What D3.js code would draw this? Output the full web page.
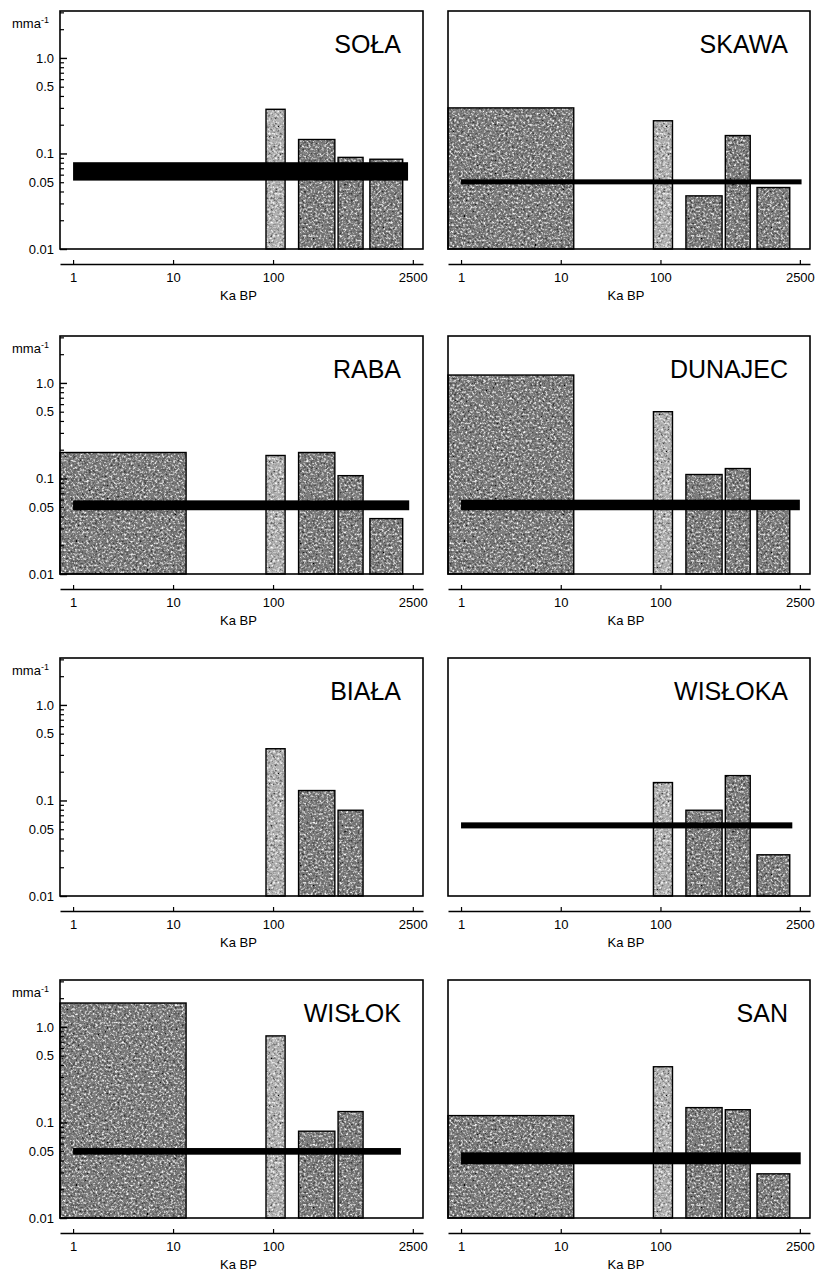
<!DOCTYPE html>
<html>
<head>
<meta charset="utf-8">
<script src="https://cdn.jsdelivr.net/npm/d3@7"></script>
<style>
  body { margin: 0; background: #fff; }
  text { font-family: "Liberation Sans", Arial, sans-serif; fill: #000; }
</style>
</head>
<body>
<svg width="816" height="1276"></svg>
<script>
// rivers, in reading order (row by row)
var rivers = ["SOŁA", "SKAWA", "RABA", "DUNAJEC", "BIAŁA", "WISŁOKA", "WISŁOK", "SAN"];

// time slices, Ka BP (first one starts at the left edge of the frame)
var periodStart = [0.74, 85, 180, 447, 930];
var periodEnd   = [13.5, 132, 415, 795, 1980];
var periodShade = ["dark", "light", "dark", "dark", "dark"];

// rates (mm/a) per time slice, null = no bar
var sola    = [null, 0.29, 0.14, 0.091, 0.087];
var skawa   = [0.30, 0.22, 0.036, 0.154, 0.044];
var raba    = [0.187, 0.174, 0.187, 0.107, 0.038];
var dunajec = [1.21, 0.50, 0.110, 0.127, 0.058];
var biala   = [null, 0.348, 0.127, 0.079, null];
var wisloka = [null, 0.154, 0.079, 0.182, 0.027];
var wislok  = [1.78, 0.806, 0.081, 0.130, null];
var san     = [0.118, 0.383, 0.143, 0.136, 0.029];
var rates = [sola, skawa, raba, dunajec, biala, wisloka, wislok, san];

// long-term mean rate band (low/high, mm/a) from 1 Ka to bandEnd
var bandLow  = [0.052, 0.0475, 0.0465, 0.0465, null, 0.051, 0.046, 0.0365];
var bandHigh = [0.081, 0.0536, 0.059, 0.060, null, 0.059, 0.054, 0.0487];
var bandEnd  = [2240, 2600, 2300, 2500, null, 2100, 1900, 2550];

// axis ticks
var xTicks = [1, 10, 100, 2500];
var yLabels = [0.01, 0.05, 0.1, 0.5, 1];
var yMajor = [0.01, 0.1, 1];
var yMinor = [0.02, 0.03, 0.04, 0.05, 0.06, 0.07, 0.08, 0.09,
              0.2, 0.3, 0.4, 0.5, 0.6, 0.7, 0.8, 0.9, 2, 3];

var svg = d3.select("svg");

var colLeft = [60, 448],
    colWidth = [363, 362],
    rowTop = [11, 336, 658, 980],
    frameH = 238;

// mottled print texture for the bars
var defs = svg.append("defs");
var grain = defs.append("filter").attr("id", "grain");
grain.append("feTurbulence")
    .attr("type", "fractalNoise").attr("baseFrequency", 0.45)
    .attr("numOctaves", 3).attr("seed", 7).attr("result", "noise");
grain.append("feColorMatrix").attr("in", "noise").attr("type", "matrix")
    .attr("values", "0 0 0 0 0  0 0 0 0 0  0 0 0 0 0  3.0 0 0 0 -1.6")
    .attr("result", "dark");
grain.append("feColorMatrix").attr("in", "noise").attr("type", "matrix")
    .attr("values", "0 0 0 0 1  0 0 0 0 1  0 0 0 0 1  -3.0 0 0 0 1.4")
    .attr("result", "light");
var merge = grain.append("feMerge").attr("result", "merged");
merge.append("feMergeNode").attr("in", "SourceGraphic");
merge.append("feMergeNode").attr("in", "dark");
merge.append("feMergeNode").attr("in", "light");
grain.append("feComposite").attr("in", "merged").attr("in2", "SourceGraphic").attr("operator", "in");

var shadeColor = { dark: "#7c7c7c", light: "#b0b0b0" };

rivers.forEach(function(name, i) {
  var row = Math.floor(i / 2), col = i % 2;
  var w = colWidth[col];

  var x = d3.scaleLog().domain([0.74, 3160]).range([0, w]);
  var y = d3.scaleLog().domain([0.01, 3.1]).range([frameH, 0]);

  var g = svg.append("g")
      .attr("transform", "translate(" + colLeft[col] + "," + rowTop[row] + ")");

  var bars = rates[i].map(function(v, k) {
    return { x0: periodStart[k], x1: periodEnd[k], v: v, shade: periodShade[k] };
  }).filter(function(d) { return d.v != null; });

  g.selectAll("rect.fill")
    .data(bars)
    .enter().append("rect")
      .attr("class", "fill")
      .attr("x", function(d) { return x(d.x0); })
      .attr("width", function(d) { return x(d.x1) - x(d.x0); })
      .attr("y", function(d) { return y(d.v); })
      .attr("height", function(d) { return frameH - y(d.v); })
      .style("fill", function(d) { return shadeColor[d.shade]; })
      .attr("filter", "url(#grain)");

  g.selectAll("rect.edge")
    .data(bars)
    .enter().append("rect")
      .attr("class", "edge")
      .attr("x", function(d) { return x(d.x0); })
      .attr("width", function(d) { return x(d.x1) - x(d.x0); })
      .attr("y", function(d) { return y(d.v); })
      .attr("height", function(d) { return frameH - y(d.v); })
      .style("fill", "none")
      .style("stroke", "#000")
      .style("stroke-width", 1.4);

  if (bandLow[i] != null) {
    g.append("rect")
      .attr("x", x(1))
      .attr("width", x(bandEnd[i]) - x(1))
      .attr("y", y(bandHigh[i]))
      .attr("height", y(bandLow[i]) - y(bandHigh[i]))
      .style("fill", "#000");
  }

  // frame
  g.append("rect")
    .attr("width", w).attr("height", frameH)
    .style("fill", "none").style("stroke", "#000").style("stroke-width", 1.6);

  // y axis only on the left column
  if (col === 0) {
    var minor = g.append("g").call(d3.axisRight(y).tickValues(yMinor).tickSize(4).tickFormat(""));
    var major = g.append("g").call(d3.axisRight(y).tickValues(yMajor).tickSize(7).tickFormat(""));
    var labels = g.append("g").call(d3.axisLeft(y).tickValues(yLabels).tickSize(0).tickPadding(6)
        .tickFormat(function(d) { return d === 1 ? "1.0" : String(d); }));
    [minor, major, labels].forEach(function(a) { a.select(".domain").remove(); });
    minor.selectAll("line").style("stroke-width", 1.2);
    major.selectAll("line").style("stroke-width", 1.4);
    labels.selectAll("text").style("font-size", "13px").style("font-family", "Liberation Sans, Arial, sans-serif");

    var unit = g.append("text")
      .attr("x", -48).attr("y", 17)
      .style("font-size", "13px");
    unit.append("tspan").text("mma");
    unit.append("tspan").attr("dy", -5).style("font-size", "9px").text("-1");
  }

  // river name
  g.append("text")
    .attr("x", w - 22).attr("y", 42)
    .attr("text-anchor", "end")
    .style("font-size", "25px")
    .text(name);

  // separate time axis below the frame
  var xa = g.append("g")
    .attr("transform", "translate(0," + (frameH + 15) + ")")
    .call(d3.axisBottom(x).tickValues(xTicks).tickSize(-4).tickSizeOuter(0).tickPadding(9)
      .tickFormat(d3.format("d")));
  xa.select(".domain").style("stroke-width", 1.4);
  xa.selectAll("line").style("stroke-width", 1.2);
  xa.selectAll("text").style("font-size", "13px").style("font-family", "Liberation Sans, Arial, sans-serif");

  g.append("text")
    .attr("x", w / 2 - 3)
    .attr("y", frameH + 15 + 36)
    .attr("text-anchor", "middle")
    .style("font-size", "13px")
    .text("Ka BP");
});
</script>
</body>
</html>
